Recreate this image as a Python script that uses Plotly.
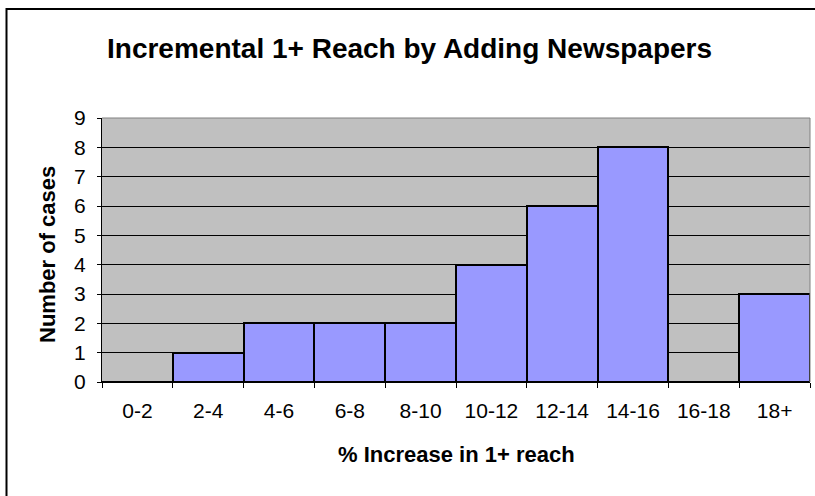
import plotly.graph_objects as go

categories = ["0-2", "2-4", "4-6", "6-8", "8-10", "10-12", "12-14", "14-16", "16-18", "18+"]
counts = [0, 1, 2, 2, 2, 4, 6, 8, 0, 3]
y_ticks = [0, 1, 2, 3, 4, 5, 6, 7, 8, 9]

W, H = 815, 496
L, R, T, B = 102, 5, 118, 114
pw, ph = W - L - R, H - T - B

def px_to_paper_x(px):
    return (px - L) / pw

def px_to_paper_y(py):
    return (H - B - py) / ph

fig = go.Figure()
fig.add_trace(go.Bar(
    x=categories, y=counts,
    marker=dict(color="#9999FF", line=dict(color="black", width=2)),
    hoverinfo="x+y",
))

font = "Liberation Sans, Arial, sans-serif"
fig.update_layout(
    width=W, height=H,
    margin=dict(l=L, r=R, t=T, b=B, pad=0),
    paper_bgcolor="white",
    plot_bgcolor="#C0C0C0",
    bargap=0,
    showlegend=False,
    font=dict(family=font, color="black", size=21),
    xaxis=dict(
        type="category",
        tickson="boundaries",
        ticks="outside", ticklen=5, tickcolor="black", tickwidth=1,
        showline=True, linecolor="black", linewidth=1,
        showgrid=False,
        tickfont=dict(size=21),
        ticklabelstandoff=10,
    ),
    yaxis=dict(
        range=[0, 9],
        tickvals=y_ticks,
        ticks="outside", ticklen=4, tickcolor="black", tickwidth=1,
        showline=True, linecolor="black", linewidth=1,
        showgrid=True, gridcolor="black", gridwidth=1,
        zeroline=False,
        tickfont=dict(size=21),
        ticklabelstandoff=7,
    ),
    annotations=[
        dict(text="<b>Incremental 1+ Reach by Adding Newspapers</b>",
             xref="paper", yref="paper",
             x=px_to_paper_x(409), y=px_to_paper_y(48),
             xanchor="center", yanchor="middle",
             showarrow=False, font=dict(size=28, family=font)),
        dict(text="<b>% Increase in 1+ reach</b>",
             xref="paper", yref="paper",
             x=px_to_paper_x(456), y=px_to_paper_y(455),
             xanchor="center", yanchor="middle",
             showarrow=False, font=dict(size=22, family=font)),
        dict(text="<b>Number of cases</b>",
             xref="paper", yref="paper",
             x=px_to_paper_x(47), y=px_to_paper_y(254),
             xanchor="center", yanchor="middle", textangle=-90,
             showarrow=False, font=dict(size=22, family=font)),
    ],
    shapes=[
        dict(type="line", xref="paper", yref="paper", x0=0, x1=1, y0=1, y1=1,
             line=dict(color="#808080", width=1)),
        dict(type="line", xref="paper", yref="paper", x0=1, x1=1, y0=0, y1=1,
             line=dict(color="#808080", width=1)),
        # outer chart border; right and bottom edges fall outside the page
        dict(type="rect", xref="paper", yref="paper",
             x0=px_to_paper_x(6.5), x1=px_to_paper_x(900),
             y0=px_to_paper_y(600), y1=px_to_paper_y(9),
             line=dict(color="black", width=2), fillcolor="rgba(0,0,0,0)"),
    ],
)

fig.write_html("out.html", config={"displayModeBar": False})
